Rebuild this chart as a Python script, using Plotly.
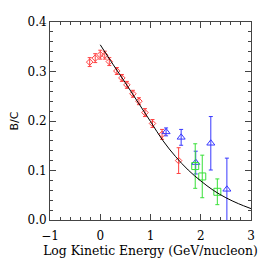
import plotly.graph_objects as go

red_x = [-0.21, -0.1, 0.0, 0.09, 0.18, 0.33, 0.43, 0.53, 0.65, 0.77, 0.89, 1.04, 1.23, 1.56]
red_y = [0.319, 0.327, 0.334, 0.333, 0.320, 0.301, 0.287, 0.273, 0.255, 0.240, 0.217, 0.195, 0.173, 0.120]
red_err = [0.009, 0.009, 0.009, 0.008, 0.008, 0.007, 0.007, 0.007, 0.007, 0.007, 0.008, 0.008, 0.010, 0.026]

blue_x = [1.31, 1.61, 1.90, 2.20, 2.52]
blue_y = [0.178, 0.167, 0.116, 0.155, 0.062]
blue_err = [0.008, 0.016, 0.023, 0.054, 0.063]

green_x = [1.89, 2.03, 2.33]
green_y = [0.109, 0.088, 0.057]
green_err = [0.045, 0.043, 0.026]

model_x = [0.0, 0.25, 0.5, 0.75, 1.0, 1.25, 1.5, 1.75, 2.0, 2.25, 2.5, 2.75, 3.0]
model_y = [0.354, 0.315, 0.277, 0.238, 0.199, 0.160, 0.128, 0.101, 0.079, 0.060, 0.045, 0.033, 0.023]

x_ticks = [-1, 0, 1, 2, 3]
y_ticks = [0.0, 0.1, 0.2, 0.3, 0.4]

fig = go.Figure()

def add_series(x, y, err, color, symbol, size):
    fig.add_trace(go.Scatter(
        x=x, y=y, mode="markers",
        marker=dict(symbol=symbol, size=size, color=color,
                    line=dict(color=color, width=1)),
        error_y=dict(type="data", array=err, color=color, thickness=1, width=2),
        showlegend=False, cliponaxis=True))

add_series(red_x, red_y, red_err, "#ff4040", "diamond-open", 5)
add_series(blue_x, blue_y, blue_err, "#3838ff", "triangle-up-open", 7)
add_series(green_x, green_y, green_err, "#38e038", "square-open", 7)

fig.add_trace(go.Scatter(x=model_x, y=model_y, mode="lines", line=dict(color="black", width=1, shape="spline"),
                         showlegend=False))

axis_common = dict(
    showgrid=False, zeroline=False, showline=True, linecolor="#444", linewidth=1,
    mirror="ticks", ticks="inside", ticklen=6, tickcolor="#444", automargin=False,
    tickfont=dict(family="DejaVu Serif", size=12, color="black"),
)

fig.update_xaxes(range=[-1, 3], tickvals=x_ticks, ticktext=["\u22121", "0", "1", "2", "3"],
                 minor=dict(dtick=0.2, ticks="inside", ticklen=3, tickcolor="#444"),
                 ticklabelstandoff=5,
                 title=dict(text="Log Kinetic Energy (GeV/nucleon)",
                            font=dict(family="DejaVu Serif", size=12.4, color="black"), standoff=3),
                 **axis_common)
fig.update_yaxes(range=[0, 0.4], tickvals=y_ticks, ticktext=[f"{v:.1f}" for v in y_ticks],
                 minor=dict(dtick=0.02, ticks="inside", ticklen=3, tickcolor="#444"),
                 title=dict(text="B/C", font=dict(family="DejaVu Sans", size=11, color="black"), standoff=10),
                 **axis_common)

fig.update_layout(width=258, height=258, margin=dict(l=42, r=15, t=14, b=46),
                  plot_bgcolor="white", paper_bgcolor="white")

fig.write_html("out.html")
